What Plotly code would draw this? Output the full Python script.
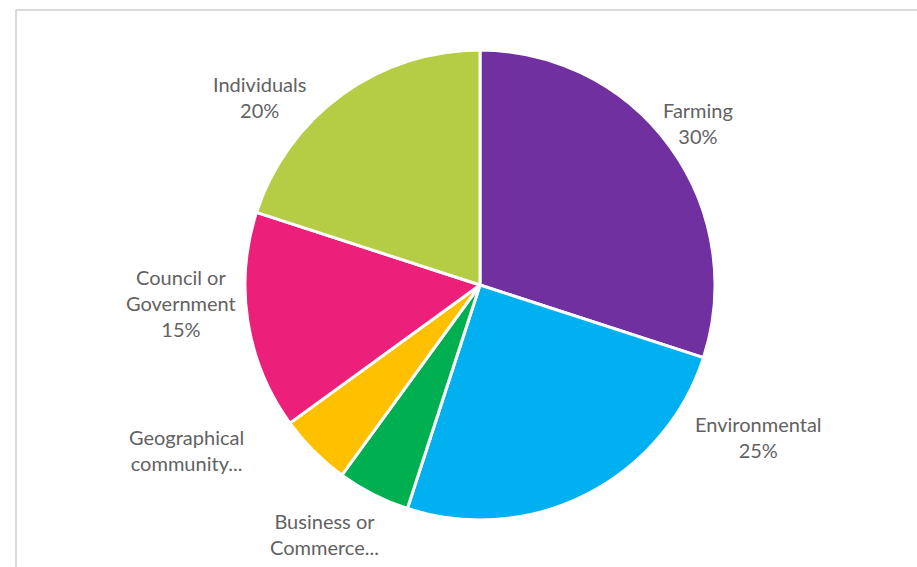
import plotly.graph_objects as go

# Share of respondents by group
categories = ["Farming", "Environmental", "Business or Commerce", "Geographical community",
              "Council or Government", "Individuals"]
values = [30, 25, 5, 5, 15, 20]
label_text = ["Farming", "Environmental", "Business or<br>Commerce...", "Geographical<br>community...",
              "Council or<br>Government", "Individuals"]
show_pct = [True, True, False, False, True, True]
colors = ["#7030A0", "#00B0F0", "#00B050", "#FFC000", "#EC1F7A", "#B5CC45"]

W, H = 917, 567
# label anchor points in pixels (x, y from top)
label_px = [(698, 123), (758, 437), (324, 534), (186, 450), (181, 303), (259, 97)]

total = sum(values)

fig = go.Figure(go.Pie(
    labels=categories,
    values=values,
    sort=False,
    direction="clockwise",
    rotation=0,
    marker=dict(colors=colors, line=dict(color="white", width=3)),
    textinfo="none",
    hoverinfo="label+percent",
    showlegend=False,
    domain=dict(x=[(480 - 235) / W, (480 + 235) / W],
                y=[1 - (285 + 235) / H, 1 - (285 - 235) / H]),
))

for txt, v, pct, (px, py) in zip(label_text, values, show_pct, label_px):
    t = txt + (f"<br>{round(100 * v / total)}%" if pct else "")
    fig.add_annotation(
        x=px / W, y=1 - py / H, xref="paper", yref="paper",
        text=t, showarrow=False, align="center",
        xanchor="center", yanchor="middle",
        font=dict(family="Lato", size=20, weight=400, color="#626262"),
    )

# chart frame: top and left edges
fig.add_shape(type="line", xref="paper", yref="paper",
              x0=16 / W, x1=1.0, y0=1 - 10 / H, y1=1 - 10 / H,
              line=dict(color="#D9D9D9", width=2))
fig.add_shape(type="line", xref="paper", yref="paper",
              x0=16 / W, x1=16 / W, y0=1 - 10 / H, y1=0,
              line=dict(color="#D9D9D9", width=2))

fig.update_layout(
    width=W, height=H,
    margin=dict(l=0, r=0, t=0, b=0),
    paper_bgcolor="white",
    plot_bgcolor="white",
)

fig.write_html("out.html")
